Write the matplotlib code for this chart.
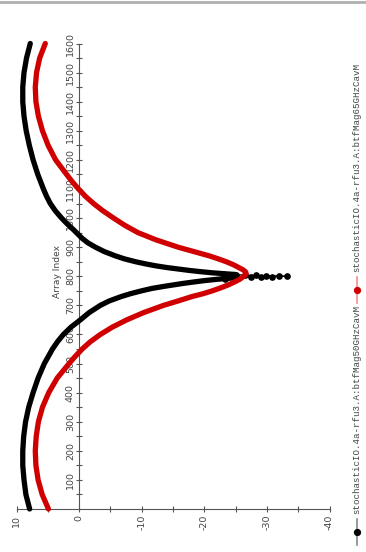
# Rotated ListPlot of two stochastic cavity traces

import numpy as np
import matplotlib.pyplot as plt
from matplotlib import font_manager
from matplotlib.lines import Line2D

# data
black_index = [0, 50, 100, 150, 200, 250, 300, 350, 400, 450,
               500, 550, 575, 600, 625, 650, 675, 700, 715, 730,
               740, 750, 758, 765, 770, 775, 780, 785, 789, 792,
               795, 797, 798, 799, 800, 801, 802, 803, 804, 806,
               809, 812, 816, 820, 825, 830, 836, 843, 850, 860,
               870, 885, 900, 915, 930, 945, 960, 980, 1000, 1025,
               1050, 1075, 1100, 1150, 1200, 1250, 1300, 1350, 1400, 1450,
               1500, 1550, 1600]
black_value = [7.9, 8.5, 8.8, 9.0, 9.0, 8.85, 8.55, 8.05, 7.35, 6.55,
               5.55, 4.25, 3.45, 2.5, 1.3, -0.2, -1.6, -3.4, -4.8, -6.7,
               -8.2, -10.0, -11.6, -13.5, -15.0, -16.5, -18.2, -20.0, -21.8, -23.3,
               -25.2, -27.4, -29.0, -30.8, -33.2, -31.9, -29.8, -28.2, -26.5, -25.0,
               -23.0, -21.2, -19.3, -17.6, -15.8, -14.0, -12.2, -10.5, -9.0, -7.2,
               -5.8, -4.0, -2.6, -1.4, -0.5, 0.2, 0.9, 1.9, 2.8, 3.8,
               4.6, 5.2, 5.7, 6.6, 7.35, 7.95, 8.45, 8.8, 9.0, 9.0,
               8.8, 8.4, 7.8]

red_index = [0, 50, 100, 150, 200, 250, 300, 350, 400, 450,
             500, 525, 550, 575, 600, 625, 650, 675, 700, 715,
             730, 740, 750, 760, 770, 780, 790, 800, 808, 815,
             822, 830, 840, 850, 860, 870, 885, 900, 925, 950,
             975, 1000, 1025, 1050, 1075, 1100, 1125, 1150, 1200, 1250,
             1300, 1350, 1400, 1450, 1500, 1550, 1600]
red_value = [4.9, 5.9, 6.55, 6.9, 7.0, 6.85, 6.5, 5.85, 4.85, 3.5,
             1.6, 0.6, -0.5, -1.8, -3.4, -5.3, -7.6, -10.3, -13.5, -15.8,
             -18.0, -19.8, -21.3, -22.6, -23.8, -24.8, -25.7, -26.3, -26.7, -26.6,
             -26.2, -25.5, -24.6, -23.5, -22.2, -20.8, -18.3, -15.8, -12.3, -9.4,
             -7.3, -5.5, -3.8, -2.3, -1.0, 0.1, 1.1, 2.0, 3.75, 4.95,
             5.85, 6.5, 6.9, 7.0, 6.8, 6.3, 5.4]

legend_labels = ['stochasticIO.4a-rfu3.A:btfMag50GHzCavM',
                 'stochasticIO.4a-rfu3.A:btfMag65GHzCavM']

value_ticks = [10, 0, -10, -20, -30, -40]
value_minor = [5, -5, -15, -25, -35]
index_ticks = list(range(100, 1700, 100))
index_minor = list(range(50, 1600, 100))

names = {f.name for f in font_manager.fontManager.ttflist}
narrow = 'Liberation Sans Narrow' if 'Liberation Sans Narrow' in names else 'DejaVu Sans'
mono = 'Liberation Mono' if 'Liberation Mono' in names else 'DejaVu Sans Mono'

W, H = 366, 552
fig = plt.figure(figsize=(W / 100, H / 100), dpi=100)
ax = fig.add_axes([16.5 / W, 43 / H, 313 / W, 465.5 / H])

bi = np.array(black_index)
bv = np.array(black_value)
lo = bi <= 795
hi = bi >= 806
tip = (bi >= 792) & (bi <= 809)

black = '#000000'
red = '#d00000'

# black trace: dense body drawn thick, sparse points at the dip as dots
ax.plot(bv[lo], bi[lo], color=black, lw=3.8, solid_capstyle='round',
        solid_joinstyle='round', clip_on=False, zorder=3)
ax.plot(bv[hi], bi[hi], color=black, lw=3.8, solid_capstyle='round',
        solid_joinstyle='round', clip_on=False, zorder=3)
ax.plot(bv[tip], bi[tip], '-o', color=black, lw=0.8, ms=3.8, clip_on=False, zorder=3)

# red trace
ax.plot(red_value, red_index, color=red, lw=3.8, solid_capstyle='round',
        solid_joinstyle='round', clip_on=False, zorder=4)

ax.set_xlim(10, -40)
ax.set_ylim(0, 1600)

ax.spines['top'].set_visible(False)
ax.spines['right'].set_visible(False)
ax.spines['left'].set_position(('data', 0))
for s in ['left', 'bottom']:
    ax.spines[s].set_color('#555555')
    ax.spines[s].set_linewidth(0.8)

ax.set_xticks(value_ticks)
ax.set_xticklabels([str(v) for v in value_ticks], rotation=90)
ax.set_xticks(value_minor, minor=True)
ax.set_yticks(index_ticks)
ax.set_yticklabels([str(v) for v in index_ticks], rotation=90, va='center')
ax.set_yticks(index_minor, minor=True)

ax.tick_params(which='both', direction='inout', length=4, width=0.8,
               color='#555555', labelsize=6.8, labelcolor='#444444')
ax.tick_params(axis='x', pad=2)
ax.tick_params(axis='y', pad=1)
for lab in ax.get_xticklabels() + ax.get_yticklabels():
    lab.set_family(narrow)

ax.text(3.5, 815, 'Array Index', rotation=90, ha='center', va='center',
        fontsize=6.6, family=narrow, color='#444444')

# legend drawn by hand, rotated like the rest
lx = 357 / W
items = [(black, '#888888', 532, legend_labels[0]),
         (red, '#f09090', 290, legend_labels[1])]
for dot, line, yc, lab in items:
    fig.add_artist(Line2D([lx, lx], [1 - (yc - 13) / H, 1 - (yc + 13) / H],
                          color=line, lw=1.2))
    fig.add_artist(Line2D([lx], [1 - yc / H], marker='o', ms=4.2,
                          color=dot, lw=0))
    fig.text(lx, 1 - (yc - 18) / H, lab, rotation=90, ha='center', va='bottom',
             fontsize=6.6, family=mono, color='#444444')

# thin gray rule at the top edge
fig.add_artist(Line2D([0, 1], [1 - 2 / H, 1 - 2 / H], color='#b0b0b0', lw=2))

fig.savefig('out.png', dpi=100)
